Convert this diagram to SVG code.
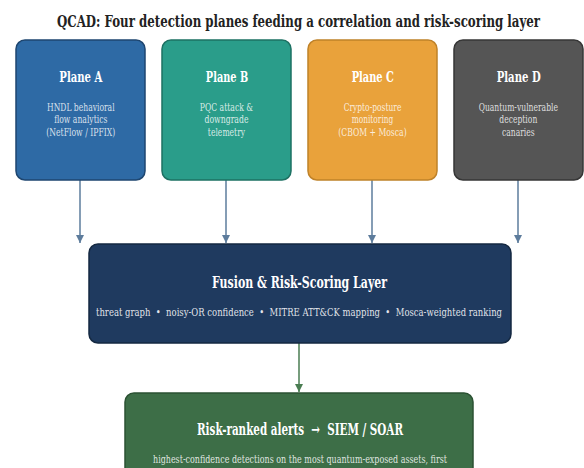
<svg xmlns="http://www.w3.org/2000/svg" width="584" height="468" viewBox="0 0 584 468">
<style>
  text { font-family: 'DejaVu Serif', serif; text-anchor: middle; }
  .title { font-size: 16px; font-weight: bold; fill: #222222; }
  .ntitle { font-size: 14.5px; font-weight: bold; fill: #ffffff; }
  .ltitle { font-size: 16px; font-weight: bold; fill: #ffffff; }
  .nbody { font-size: 11px; fill: #ffffff; fill-opacity: 0.82; }
  .sub { font-size: 11.5px; fill: #ffffff; fill-opacity: 0.88; }
  .gsub { font-size: 10.5px; fill: #ffffff; fill-opacity: 0.85; }
  .box { stroke-width: 1.5; }
  .blue { stroke: #5d7c9c; stroke-width: 1.5; fill: none; }
  .green { stroke: #4a7d52; stroke-width: 1.5; fill: none; }
</style>
<defs>
  <marker id="ab" viewBox="0 0 8 10" refX="8" refY="5" markerWidth="8" markerHeight="10" markerUnits="userSpaceOnUse" orient="auto">
    <path d="M0,1 L8,5 L0,9 Z" fill="#5d7c9c"/>
  </marker>
  <marker id="ag" viewBox="0 0 8 10" refX="8" refY="5" markerWidth="8" markerHeight="10" markerUnits="userSpaceOnUse" orient="auto">
    <path d="M0,1 L8,5 L0,9 Z" fill="#4a7d52"/>
  </marker>
</defs>
<rect width="584" height="468" fill="#ffffff"/>
<text class="title" x="298.5" y="26.7" textLength="483" lengthAdjust="spacingAndGlyphs">QCAD: Four detection planes feeding a correlation and risk-scoring layer</text>

<g id="connectors">
  <line class="blue" x1="80" y1="180" x2="80" y2="243" marker-end="url(#ab)"/>
  <line class="blue" x1="226" y1="180" x2="226" y2="243" marker-end="url(#ab)"/>
  <line class="blue" x1="372" y1="180" x2="372" y2="243" marker-end="url(#ab)"/>
  <line class="blue" x1="518" y1="180" x2="518" y2="243" marker-end="url(#ab)"/>
  <line class="green" x1="299" y1="343" x2="299" y2="392" marker-end="url(#ag)"/>
</g>

<g id="plane-a">
  <rect class="box" x="16" y="40" width="129" height="140" rx="9" fill="#2e6aa5" stroke="#1e4670"/>
  <text class="ntitle" x="80.8" y="81.7" textLength="43" lengthAdjust="spacingAndGlyphs">Plane A</text>
  <text class="nbody" x="80.8" y="111" textLength="67.6" lengthAdjust="spacingAndGlyphs">HNDL behavioral</text>
  <text class="nbody" x="80.8" y="123.4" textLength="53.3" lengthAdjust="spacingAndGlyphs">flow analytics</text>
  <text class="nbody" x="80.8" y="135.8" textLength="69" lengthAdjust="spacingAndGlyphs">(NetFlow / IPFIX)</text>
</g>
<g id="plane-b">
  <rect class="box" x="162" y="40" width="129" height="140" rx="9" fill="#2a9d8a" stroke="#1d7163"/>
  <text class="ntitle" x="227" y="81.7" textLength="42.3" lengthAdjust="spacingAndGlyphs">Plane B</text>
  <text class="nbody" x="226.5" y="111" textLength="53.3" lengthAdjust="spacingAndGlyphs">PQC attack &amp;</text>
  <text class="nbody" x="226.5" y="123.4" textLength="44" lengthAdjust="spacingAndGlyphs">downgrade</text>
  <text class="nbody" x="226.5" y="135.8" textLength="37.3" lengthAdjust="spacingAndGlyphs">telemetry</text>
</g>
<g id="plane-c">
  <rect class="box" x="308" y="40" width="129" height="140" rx="9" fill="#e9a23b" stroke="#bf8229"/>
  <text class="ntitle" x="372.8" y="81.7" textLength="42.3" lengthAdjust="spacingAndGlyphs">Plane C</text>
  <text class="nbody" x="372.5" y="111" textLength="57.7" lengthAdjust="spacingAndGlyphs">Crypto-posture</text>
  <text class="nbody" x="372.5" y="123.4" textLength="41.7" lengthAdjust="spacingAndGlyphs">monitoring</text>
  <text class="nbody" x="372.5" y="135.8" textLength="68.3" lengthAdjust="spacingAndGlyphs">(CBOM + Mosca)</text>
</g>
<g id="plane-d">
  <rect class="box" x="454" y="40" width="129" height="140" rx="9" fill="#555555" stroke="#363636"/>
  <text class="ntitle" x="518.7" y="81.7" textLength="44" lengthAdjust="spacingAndGlyphs">Plane D</text>
  <text class="nbody" x="518.3" y="111" textLength="79.3" lengthAdjust="spacingAndGlyphs">Quantum-vulnerable</text>
  <text class="nbody" x="518.3" y="123.4" textLength="38" lengthAdjust="spacingAndGlyphs">deception</text>
  <text class="nbody" x="518.3" y="135.8" textLength="32.7" lengthAdjust="spacingAndGlyphs">canaries</text>
</g>
<g id="fusion">
  <rect class="box" x="89" y="244" width="422" height="99" rx="9" fill="#1f3a5f" stroke="#142841"/>
  <text class="ltitle" x="299.5" y="288.3" textLength="175" lengthAdjust="spacingAndGlyphs">Fusion &amp; Risk-Scoring Layer</text>
  <text class="sub" x="299" y="316" textLength="406" lengthAdjust="spacingAndGlyphs" xml:space="preserve">threat graph  •  noisy-OR confidence  •  MITRE ATT&amp;CK mapping  •  Mosca-weighted ranking</text>
</g>
<g id="alerts">
  <rect class="box" x="125" y="393" width="348" height="90" rx="9" fill="#3d6e47" stroke="#2b5233"/>
  <text class="ltitle" x="300" y="435" textLength="206" lengthAdjust="spacingAndGlyphs" xml:space="preserve">Risk-ranked alerts  →  SIEM / SOAR</text>
  <text class="gsub" x="300" y="462.5" textLength="294" lengthAdjust="spacingAndGlyphs">highest-confidence detections on the most quantum-exposed assets, first</text>
</g>
</svg>
